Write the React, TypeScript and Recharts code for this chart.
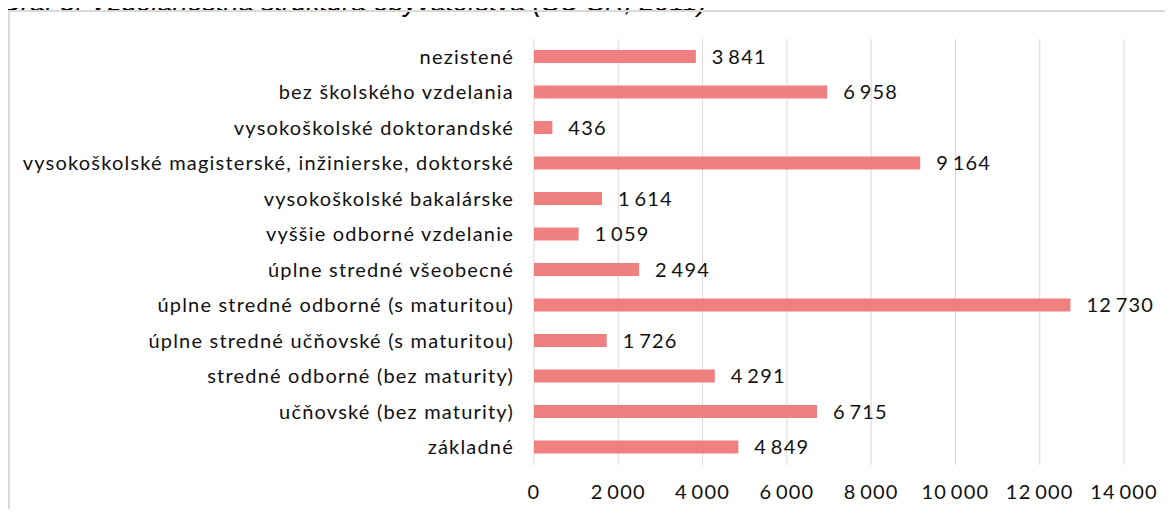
import { BarChart, Bar, XAxis, YAxis, CartesianGrid, LabelList } from 'recharts'

const categories = [
  'nezistené',
  'bez školského vzdelania',
  'vysokoškolské doktorandské',
  'vysokoškolské magisterské, inžinierske, doktorské',
  'vysokoškolské bakalárske',
  'vyššie odborné vzdelanie',
  'úplne stredné všeobecné',
  'úplne stredné odborné (s maturitou)',
  'úplne stredné učňovské (s maturitou)',
  'stredné odborné (bez maturity)',
  'učňovské (bez maturity)',
  'základné',
]
const values = [3841, 6958, 436, 9164, 1614, 1059, 2494, 12730, 1726, 4291, 6715, 4849]
const xTicks = [0, 2000, 4000, 6000, 8000, 10000, 12000, 14000]

const data = categories.map((name, i) => ({ name, value: values[i] }))

const fmt = (v: number) => String(v).replace(/\B(?=(\d{3})+(?!\d))/g, '\u2009')

const FONT = 'Lato, "Open Sans", sans-serif'
const textStyle = { fontSize: 20, fill: '#111', fontFamily: FONT, letterSpacing: 1.2 }

export default function App() {
  return (
    <div style={{ position: 'relative', width: 1173, height: 517, margin: -8, overflow: 'hidden', background: '#fff' }}>
      <div
        style={{
          position: 'absolute',
          left: 0,
          top: -11,
          fontFamily: '"Liberation Sans", Arial, sans-serif',
          fontStyle: 'italic',
          fontSize: 27,
          lineHeight: 1,
          whiteSpace: 'nowrap',
          color: '#000',
        }}
      >
        Graf 8: Vzdelanostná štruktúra obyvateľstva (ŠÚ SR, 2011)
      </div>
      <div
        style={{
          position: 'absolute',
          left: 8,
          top: 10,
          width: 1200,
          height: 600,
          borderLeft: '2px solid #d9d9d9',
          borderTop: '2px solid #d9d9d9',
        }}
      />
      <div style={{ position: 'absolute', left: 0, top: 0 }}>
        <BarChart
          width={1173}
          height={517}
          data={data}
          layout="vertical"
          margin={{ top: 39, right: 49, left: 0, bottom: 0 }}
        >
          <CartesianGrid horizontal={false} stroke="#d9d9d9" />
          <XAxis
            type="number"
            domain={[0, 14000]}
            ticks={xTicks}
            tickFormatter={fmt}
            axisLine={false}
            tickLine={false}
            tickMargin={14}
            tick={textStyle}
            height={52}
          />
          <YAxis
            type="category"
            dataKey="name"
            width={534}
            axisLine={false}
            tickLine={false}
            tickMargin={14}
            interval={0}
            tick={textStyle}
          />
          <Bar dataKey="value" fill="#f08080" barSize={13} isAnimationActive={false}>
            <LabelList
              dataKey="value"
              position="right"
              offset={16}
              formatter={fmt}
              style={textStyle}
            />
          </Bar>
        </BarChart>
      </div>
    </div>
  )
}
